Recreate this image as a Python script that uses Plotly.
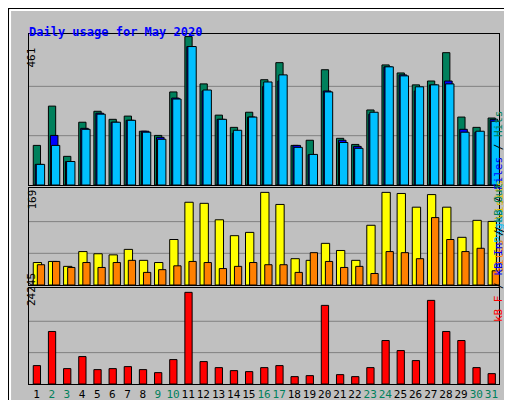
import plotly.graph_objects as go

days = list(range(1, 32))
weekend = [2, 3, 9, 10, 16, 17, 23, 24, 30, 31]

hits = [123, 245, 89, 195, 229, 204, 214, 167, 154, 289, 461, 314, 217, 179, 226, 327,
        380, 123, 139, 358, 145, 126, 233, 373, 348, 311, 323, 411, 211, 179, 208]
files = [64, 154, 73, 176, 223, 195, 201, 167, 148, 270, 430, 292, 204, 161, 211, 306,
         323, 123, 94, 292, 139, 120, 220, 367, 342, 292, 311, 323, 173, 164, 204]
pages = [64, 123, 73, 173, 220, 195, 201, 164, 142, 267, 430, 295, 204, 170, 211, 320,
         342, 117, 95, 289, 132, 114, 226, 367, 339, 305, 311, 314, 164, 167, 198]
visits = [41, 43, 34, 61, 57, 55, 65, 45, 41, 83, 151, 149, 119, 90, 96, 169,
          147, 48, 45, 76, 63, 45, 109, 169, 167, 142, 165, 142, 87, 118, 116]
sites = [37, 43, 32, 41, 32, 41, 45, 23, 28, 35, 43, 41, 30, 34, 41, 37,
         37, 23, 59, 43, 32, 34, 21, 61, 59, 48, 123, 83, 61, 67, 26]
kbytes = [4867, 13892, 4070, 7256, 3805, 4070, 4601, 3805, 3008, 6459, 24245, 5929,
          4336, 3539, 3274, 4336, 4867, 1947, 2212, 20794, 2478, 1947, 4336, 11503,
          8848, 6194, 22121, 13892, 11503, 4336, 2743]

GREEN = "#00805C"
FONT = "DejaVu Sans Mono"
xdom = [21 / 512, 491 / 512]
doms = {"y": [0.5575, 0.935], "y2": [0.3075, 0.55], "y3": [0.06, 0.3]}

fig = go.Figure()


def bars(vals, color, offset, width, yaxis):
    fig.add_trace(go.Bar(x=days, y=vals, marker_color=color, offset=offset, width=width,
                         marker_line=dict(color="black", width=1), yaxis=yaxis,
                         xaxis="x" if yaxis == "y3" else ("x2" if yaxis == "y2" else "x3"),
                         showlegend=False, hoverinfo="skip"))


bars(hits, GREEN, -0.22, 0.48, "y")
bars(files, "#0000FF", -0.09, 0.5, "y")
bars(pages, "#00C0FF", -0.02, 0.55, "y")
bars(visits, "#FFFF00", -0.22, 0.55, "y2")
bars(sites, "#FF8000", 0.05, 0.48, "y2")
bars(kbytes, "#FF0000", -0.22, 0.48, "y3")

ticktext = [f'<span style="color:{GREEN}">{d}</span>' if d in weekend else str(d) for d in days]
xcommon = dict(range=[0.5, 31.5], domain=xdom, showgrid=False, zeroline=False,
               linecolor="black", mirror=True, showline=True, ticks="")
fig.update_layout(
    width=512, height=400, margin=dict(l=0, r=0, t=0, b=0),
    paper_bgcolor="#C0C0C0", plot_bgcolor="#C0C0C0", barmode="overlay",
    font=dict(family=FONT, size=11, color="black"),
    xaxis=dict(xcommon, anchor="y3", tickvals=days, ticktext=ticktext, tickangle=0,
               tickfont=dict(size=11)),
    xaxis2=dict(xcommon, anchor="y2", showticklabels=False),
    xaxis3=dict(xcommon, anchor="y", showticklabels=False),
    yaxis=dict(domain=doms["y"], range=[0, 469], anchor="x3"),
    yaxis2=dict(domain=doms["y2"], range=[0, 177], anchor="x2"),
    yaxis3=dict(domain=doms["y3"], range=[0, 25395], anchor="x"),
)
for ax in ["yaxis", "yaxis2", "yaxis3"]:
    fig.layout[ax].update(showticklabels=False, showgrid=False, zeroline=False,
                          showline=True, linecolor="black", mirror=True, ticks="")

shapes = []
for ya, (d0, d1) in doms.items():
    for f in (1 / 3, 2 / 3):
        shapes.append(dict(type="line", xref="paper", yref="paper", x0=xdom[0], x1=xdom[1],
                           y0=d0 + f * (d1 - d0) * 0.98, y1=d0 + f * (d1 - d0) * 0.98,
                           line=dict(color="#808080", width=1), layer="below"))
shapes += [
    dict(type="rect", xref="paper", yref="paper", x0=0, x1=1, y0=0, y1=1,
         line=dict(color="black", width=2)),
    dict(type="line", xref="paper", yref="paper", x0=0.004, x1=0.004, y0=0.01, y1=0.996,
         line=dict(color="white", width=2)),
    dict(type="line", xref="paper", yref="paper", x0=0.004, x1=0.988, y0=0.995, y1=0.995,
         line=dict(color="white", width=2)),
    dict(type="line", xref="paper", yref="paper", x0=0.99, x1=0.99, y0=0.01, y1=0.995,
         line=dict(color="#808080", width=3)),
    dict(type="line", xref="paper", yref="paper", x0=0.004, x1=0.99, y0=0.008, y1=0.008,
         line=dict(color="#808080", width=3)),
]
fig.update_layout(shapes=shapes)

ann = [
    dict(text="<b>Daily usage for May 2020</b>", x=19 / 512, y=1 - 15 / 400, xanchor="left",
         font=dict(color="#0000FF", size=12, family=FONT)),
    dict(text="461", x=15 / 512, y=1 - 38 / 400, textangle=-90),
    dict(text="169", x=15 / 512, y=1 - 192 / 400, textangle=-90),
    dict(text="24245", x=15 / 512, y=1 - 300 / 400, textangle=-90),
    dict(text=f'<span style="color:#00C0FF">Pages</span> / <span style="color:#0000FF">Files</span>'
              f' / <span style="color:{GREEN}">Hits</span>',
         x=499 / 512, y=1 - 100 / 400, textangle=-90),
    dict(text='<span style="color:#FF8000">Sites</span> / <span style="color:#E0C000">Visits</span>',
         x=499 / 512, y=1 - 218 / 400, textangle=-90),
    dict(text='<span style="color:#FF0000">kB F</span> / <span style="color:#0000FF">kB In</span>'
              f' / <span style="color:{GREEN}">kB Out</span>',
         x=499 / 512, y=1 - 316 / 400, textangle=-90),
]
for a in ann:
    a.setdefault("font", dict(size=11, family=FONT))
    fig.add_annotation(xref="paper", yref="paper", showarrow=False, **a)

fig.write_html("out.html")
